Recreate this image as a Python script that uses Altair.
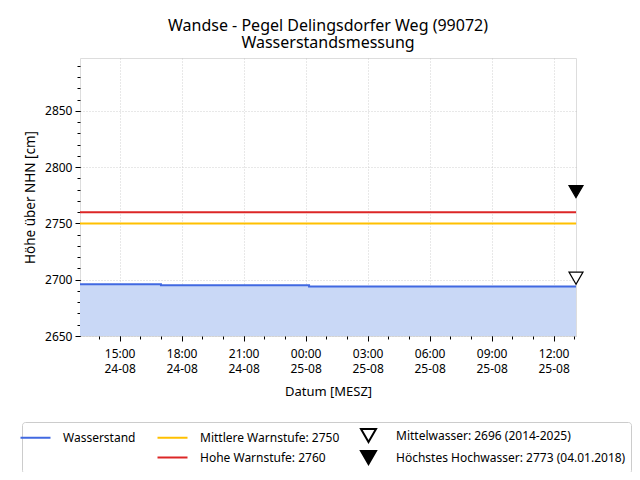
import altair as alt
import pandas as pd

FONT = "Noto Sans"

# ---------------- data ----------------
title_lines = ["Wandse - Pegel Delingsdorfer Weg (99072)", "Wasserstandsmessung"]

times = ["2025-08-24T13:05:00Z", "2025-08-24T17:00:00Z",
         "2025-08-25T00:10:00Z", "2025-08-25T13:05:00Z"]
levels = [2696, 2695, 2694, 2694]
series_name = "Wasserstand"

warn_labels = ["Mittlere Warnstufe: 2750", "Hohe Warnstufe: 2760"]
warn_values = [2750, 2760]

marker_labels = ["Mittelwasser: 2696 (2014-2025)",
                 "Höchstes Hochwasser: 2773 (04.01.2018)"]
marker_values = [2696, 2773]
marker_time = "2025-08-25T13:05:00Z"

x_major = ["2025-08-24T15:00:00Z", "2025-08-24T18:00:00Z", "2025-08-24T21:00:00Z",
           "2025-08-25T00:00:00Z", "2025-08-25T03:00:00Z", "2025-08-25T06:00:00Z",
           "2025-08-25T09:00:00Z", "2025-08-25T12:00:00Z"]
x_minor = [t.isoformat() for t in pd.date_range("2025-08-24T14:00:00Z",
                                                "2025-08-25T13:00:00Z", freq="1h")]
y_major = [2650, 2700, 2750, 2800, 2850]
y_minor = list(range(2650, 2900, 10))
y_domain = [2650, 2897]
x_domain = ["2025-08-24T13:05:00Z", "2025-08-25T13:05:00Z"]


def ms(s):
    return int(pd.Timestamp(s).value // 10**6)


level_df = pd.DataFrame({"t": times, "level": levels, "series": series_name})
warn_df = pd.DataFrame({"value": warn_values, "series": warn_labels})
marker_df = pd.DataFrame({"t": marker_time, "value": marker_values, "series": marker_labels})

# ---------------- legend scales (column-major order, 2 rows) ----------------
LINE = "M-2,0L2,0"
legend_domain = [series_name, " ", warn_labels[0], warn_labels[1],
                 marker_labels[0], marker_labels[1]]
stroke_range = ["#4169E1", "transparent", "#FFC000", "#DC2626", "#000000", "#000000"]
fill_range = ["transparent", "transparent", "transparent", "transparent", "#FFFFFF", "#000000"]
shape_range = [LINE, LINE, LINE, LINE, "triangle-down", "triangle-down"]

legend = alt.Legend(
    title=None, orient="none", legendX=-58, legendY=364, columns=3,
    direction="vertical",
    labelFont=FONT, labelFontSize=12, labelColor="#000000", labelLimit=400,
    symbolSize=225, symbolStrokeWidth=2, labelOffset=19,
    columnPadding=17, rowPadding=1,
    padding=5, strokeColor="#CCCCCC", fillColor="#FFFFFF", cornerRadius=3,
)

stroke_enc = alt.Stroke("series:N", scale=alt.Scale(domain=legend_domain, range=stroke_range), legend=legend)
fill_enc = alt.Fill("series:N", scale=alt.Scale(domain=legend_domain, range=fill_range), legend=legend)
shape_enc = alt.Shape("series:N", scale=alt.Scale(domain=legend_domain, range=shape_range), legend=legend)

xscale = alt.Scale(type="utc", domain=[ms(d) for d in x_domain])
yscale = alt.Scale(domain=y_domain, zero=False, nice=False)

x_major_axis = alt.Axis(
    values=[ms(v) for v in x_major], orient="bottom", title="Datum [MESZ]",
    labelExpr="[utcFormat(datum.value, '%H:%M'), utcFormat(datum.value, '%d-%m')]",
    labelFont=FONT, labelFontSize=12, labelColor="#000000", labelLineHeight=15.5,
    labelPadding=7, titleFont=FONT, titleFontSize=13, titleFontWeight="normal",
    titleColor="#000000", titlePadding=11,
    tickSize=5, tickColor="#000000", domain=False,
    grid=True, gridColor="#C4C4C4", gridDash=[1, 2], gridWidth=0.8,
)
x_minor_axis = alt.Axis(
    values=[ms(v) for v in x_minor], orient="bottom", title=None, labels=False,
    tickSize=3, tickColor="#000000", domain=False, grid=False,
)
y_major_axis = alt.Axis(
    values=y_major, orient="left", title="Höhe über NHN [cm]", format="d",
    labelFont=FONT, labelFontSize=12, labelColor="#000000", labelPadding=3,
    titleFont=FONT, titleFontSize=13.5, titleFontWeight="normal", titleColor="#000000",
    titlePadding=7, tickSize=5, tickColor="#000000", domain=False,
    grid=True, gridColor="#C4C4C4", gridDash=[1, 2], gridWidth=0.8,
)
y_minor_axis = alt.Axis(
    values=y_minor, orient="left", title=None, labels=False,
    tickSize=3, tickColor="#000000", domain=False, grid=False,
)

area = alt.Chart(level_df).mark_area(
    interpolate="step-after", color="#C9D8F6", clip=True
).encode(
    x=alt.X("t:T", scale=xscale, axis=x_major_axis),
    y=alt.Y("level:Q", scale=yscale, axis=y_major_axis),
)

line = alt.Chart(level_df).mark_line(
    interpolate="step-after", strokeWidth=2, clip=True
).encode(
    x=alt.X("t:T", scale=xscale, axis=x_minor_axis),
    y=alt.Y("level:Q", scale=yscale, axis=y_minor_axis),
    stroke=stroke_enc,
)

rules = alt.Chart(warn_df).mark_rule(strokeWidth=2).encode(
    y=alt.Y("value:Q", scale=yscale, axis=None),
    stroke=stroke_enc,
)

markers = alt.Chart(marker_df).mark_point(
    filled=True, size=196, strokeWidth=1.2, yOffset=-6, opacity=1
).encode(
    x=alt.X("t:T", scale=xscale, axis=None),
    y=alt.Y("value:Q", scale=yscale, axis=None),
    stroke=stroke_enc,
    fill=fill_enc,
    shape=shape_enc,
)

chart = alt.layer(area, line, rules, markers).resolve_axis(
    x="independent", y="independent"
).properties(
    width=496, height=278,
    title=alt.TitleParams(text=title_lines, font=FONT, fontSize=16, fontWeight="normal",
                          color="#000000", anchor="middle", offset=7, lineHeight=17.3),
    autosize=alt.AutoSizeParams(type="none"),
    padding={"left": 72, "top": 50, "right": 56, "bottom": 136},
).configure_view(
    fill="#F8F8FF", stroke="#000000", strokeWidth=1
).configure(background="#FFFFFF")

chart.save("out.html", embed_options={"renderer": "svg", "actions": False})
